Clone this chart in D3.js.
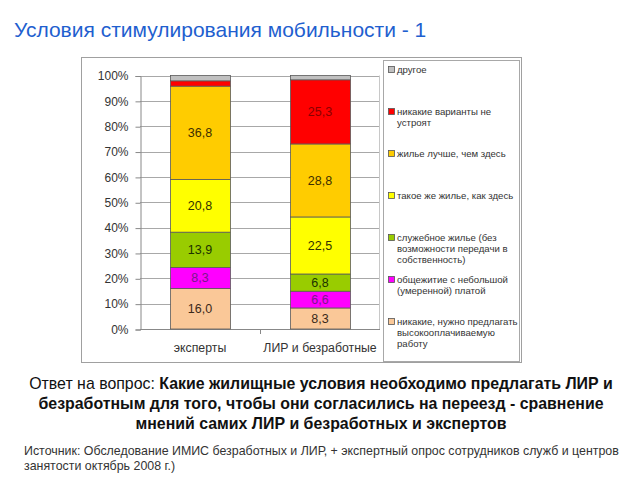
<!DOCTYPE html>
<html>
<head>
<meta charset="utf-8">
<style>
  body { margin: 0; background: #fff; }
  svg text { font-family: "Liberation Sans", Arial, sans-serif; }
</style>
</head>
<body>
<div id="chart"></div>
<script src="https://cdn.jsdelivr.net/npm/d3@7"></script>
<script>
    var width = 640, height = 480;

    // data (bottom series first)
    var categories = ['эксперты', 'ЛИР и безработные'];
    var seriesNames = [
        'никакие, нужно предлагать высокооплачиваемую работу',
        'общежитие с небольшой (умеренной) платой',
        'служебное жилье (без возможности передачи в собственность)',
        'такое же жилье, как здесь',
        'жилье лучше, чем здесь',
        'никакие варианты не устроят',
        'другое'
    ];
    var legendLines = [
        ['никакие, нужно предлагать', 'высокооплачиваемую', 'работу'],
        ['общежитие с небольшой', '(умеренной) платой'],
        ['служебное жилье (без', 'возможности передачи в', 'собственность)'],
        ['такое же жилье, как здесь'],
        ['жилье лучше, чем здесь'],
        ['никакие варианты не', 'устроят'],
        ['другое']
    ];
    var expertValues = [16.0, 8.3, 13.9, 20.8, 36.8, 2.1, 2.1];
    var lirValues    = [8.3, 6.6, 6.8, 22.5, 28.8, 25.3, 1.7];
    var yTicks = [0, 10, 20, 30, 40, 50, 60, 70, 80, 90, 100];

    var colors      = ['#fac898', '#ff00ff', '#99cc00', '#ffff00', '#ffcc00', '#ff0000', '#c0c0c0'];
    var labelColors = ['#3a2a1a', '#7a1a8a', '#1c3300', '#333300', '#3d2e00', '#8a0000', '#333'];

    var rows = categories.map(function(c, i){
        var row = { cat: c };
        var vals = i === 0 ? expertValues : lirValues;
        seriesNames.forEach(function(s, j){ row[s] = vals[j]; });
        return row;
    });

    var stacked = d3.stack().keys(seriesNames)(rows);

    var svg = d3.select('#chart').append('svg')
        .attr('width', width)
        .attr('height', height);

    // title
    svg.append('text')
        .attr('x', 14).attr('y', 37)
        .attr('font-size', 21)
        .attr('fill', '#1f5fcf')
        .text('Условия стимулирования мобильности - 1');

    // outer chart frame
    svg.append('rect')
        .attr('x', 81.5).attr('y', 57.5)
        .attr('width', 440).attr('height', 305)
        .attr('fill', 'none').attr('stroke', '#a0a0a0');

    var x = d3.scaleBand()
        .domain(categories)
        .range([140, 380])
        .paddingInner(0.5)
        .paddingOuter(0.25);

    var y = d3.scaleLinear()
        .domain([0, 100])
        .range([329, 75.5]);

    // gridlines
    svg.append('g').selectAll('line')
        .data(yTicks.slice(1))
        .enter().append('line')
        .attr('x1', 140).attr('x2', 380)
        .attr('y1', function(d){ return Math.round(y(d)) + 0.5; })
        .attr('y2', function(d){ return Math.round(y(d)) + 0.5; })
        .attr('stroke', '#a8a8a8');

    // right edge of plot area
    svg.append('line')
        .attr('x1', 379.5).attr('x2', 379.5)
        .attr('y1', y(100)).attr('y2', y(0))
        .attr('stroke', '#c8c8c8');

    // y axis
    var yAxis = svg.append('g')
        .attr('transform', 'translate(140.5,0.5)')
        .call(d3.axisLeft(y).tickValues(yTicks).tickSize(5).tickPadding(7)
            .tickFormat(function(d){ return d + '%'; }));
    yAxis.selectAll('path, line').attr('stroke', '#888');
    yAxis.selectAll('text').attr('font-size', 12).attr('fill', '#333')
        .style('font-family', '"Liberation Sans", Arial, sans-serif');

    // x axis
    svg.append('line')
        .attr('x1', 140).attr('x2', 380)
        .attr('y1', 329.5).attr('y2', 329.5)
        .attr('stroke', '#888');
    svg.append('line')
        .attr('x1', x.step() + 140 + 0.5).attr('x2', x.step() + 140 + 0.5)
        .attr('y1', 329.5).attr('y2', 334)
        .attr('stroke', '#888');
    svg.append('g').selectAll('text')
        .data(categories)
        .enter().append('text')
        .attr('x', function(d){ return x(d) + x.bandwidth() / 2; })
        .attr('y', 352)
        .attr('text-anchor', 'middle')
        .attr('font-size', 12.3)
        .attr('fill', '#333')
        .text(function(d){ return d; });

    // bars
    var layers = svg.append('g').selectAll('g')
        .data(stacked)
        .enter().append('g')
        .attr('fill', function(d, i){ return colors[i]; });

    layers.selectAll('rect')
        .data(function(d){ return d; })
        .enter().append('rect')
        .attr('x', function(d){ return x(d.data.cat) + 0.5; })
        .attr('y', function(d){ return y(d[1]); })
        .attr('width', x.bandwidth())
        .attr('height', function(d){ return y(d[0]) - y(d[1]); })
        .attr('stroke', '#5a5a5a')
        .attr('stroke-width', 0.8);

    // value labels
    stacked.forEach(function(layer, i){
        svg.append('g').selectAll('text')
            .data(layer.filter(function(d){ return d[1] - d[0] >= 3; }))
            .enter().append('text')
            .attr('x', function(d){ return x(d.data.cat) + x.bandwidth() / 2; })
            .attr('y', function(d){ return (y(d[0]) + y(d[1])) / 2 + 4.5; })
            .attr('text-anchor', 'middle')
            .attr('font-size', 12.5)
            .attr('fill', labelColors[i])
            .text(function(d){ return d3.format('.1f')(d[1] - d[0]).replace('.', ','); });
    });

    // legend
    svg.append('rect')
        .attr('x', 383.5).attr('y', 60.5)
        .attr('width', 136).attr('height', 301)
        .attr('fill', '#fff').attr('stroke', '#a8a8a8');

    var legendOrder = d3.range(seriesNames.length).reverse();
    var legend = svg.append('g').selectAll('g')
        .data(legendOrder)
        .enter().append('g')
        .attr('transform', function(d, k){ return 'translate(388,' + (73 + k * 42) + ')'; });

    legend.append('rect')
        .attr('x', 0.5).attr('y', -6.5)
        .attr('width', 6).attr('height', 6)
        .attr('fill', function(d){ return colors[d]; })
        .attr('stroke', '#555').attr('stroke-width', 0.8);

    legend.each(function(d){
        d3.select(this).selectAll('text')
            .data(legendLines[d])
            .enter().append('text')
            .attr('x', 9)
            .attr('y', function(t, j){ return j * 11; })
            .attr('font-size', 9.6)
            .attr('fill', '#333')
            .text(function(t){ return t; });
    });

    // question text
    var q = svg.append('text')
        .attr('text-anchor', 'middle')
        .attr('font-size', 15.9)
        .attr('fill', '#111');
    var t1 = q.append('tspan').attr('x', 321).attr('y', 389);
    t1.append('tspan').text('Ответ на вопрос: ');
    t1.append('tspan').attr('font-weight', 'bold')
        .text('Какие жилищные условия необходимо предлагать ЛИР и');
    q.append('tspan').attr('x', 321).attr('y', 409).attr('font-weight', 'bold')
        .text('безработным для того, чтобы они согласились на переезд - сравнение');
    q.append('tspan').attr('x', 321).attr('y', 429).attr('font-weight', 'bold')
        .text('мнений самих ЛИР и безработных и экспертов');

    // source
    var src = svg.append('text')
        .attr('font-size', 12.4)
        .attr('fill', '#333');
    src.append('tspan').attr('x', 24).attr('y', 455)
        .text('Источник: Обследование ИМИС безработных и ЛИР, + экспертный опрос сотрудников служб и центров');
    src.append('tspan').attr('x', 24).attr('y', 470)
        .text('занятости октябрь 2008 г.)');
</script>
</body>
</html>
